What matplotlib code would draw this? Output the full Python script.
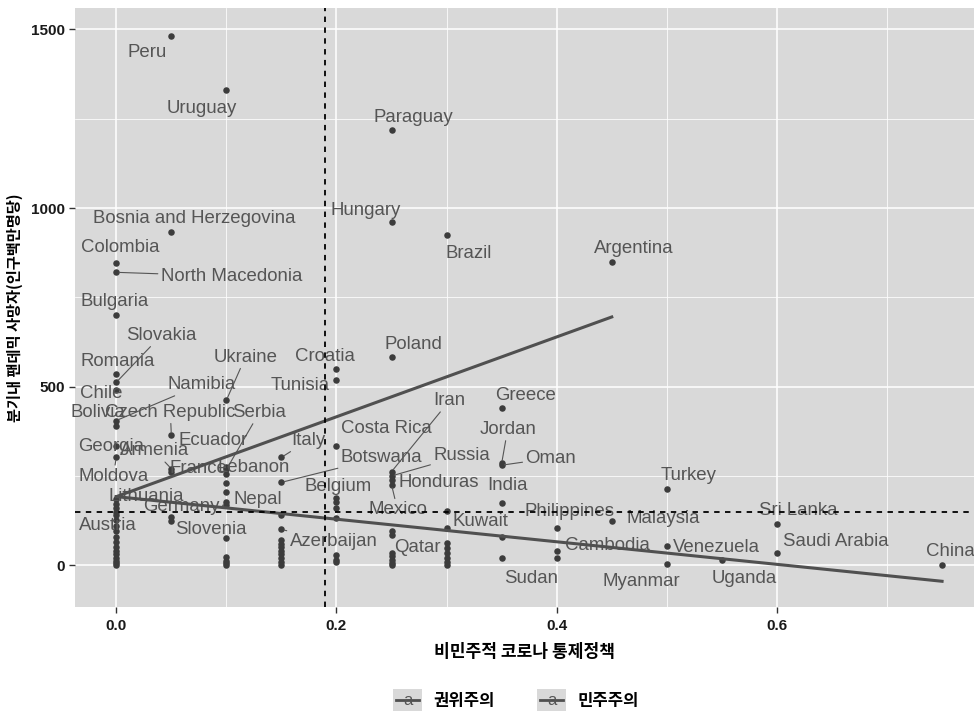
import matplotlib
matplotlib.use("Agg")
import matplotlib.pyplot as plt
from matplotlib.legend_handler import HandlerBase
from matplotlib.lines import Line2D
from matplotlib.patches import Rectangle
from matplotlib.text import Text

# labelled countries: policy score (x) and deaths per million in the quarter (y)
countries = [
    "Peru", "Uruguay", "Paraguay", "Bosnia and Herzegovina", "Hungary", "Brazil",
    "Argentina", "Colombia", "North Macedonia", "Bulgaria", "Slovakia", "Romania",
    "Chile", "Namibia", "Bolivia", "Czech Republic", "Ukraine", "Croatia", "Tunisia",
    "Poland", "Greece", "Iran", "Jordan", "Oman", "Costa Rica", "Russia", "Botswana",
    "Italy", "Serbia", "Ecuador", "Armenia", "Georgia", "France", "Lebanon", "Moldova",
    "Honduras", "Belgium", "India", "Turkey", "Lithuania", "Nepal", "Germany", "Mexico",
    "Kuwait", "Philippines", "Malaysia", "Sri Lanka", "Austria", "Slovenia", "Azerbaijan",
    "Qatar", "Cambodia", "Venezuela", "Saudi Arabia", "China", "Sudan", "Myanmar", "Uganda",
]
policy = [
    0.05, 0.10, 0.25, 0.05, 0.25, 0.30,
    0.45, 0.00, 0.00, 0.00, 0.00, 0.00,
    0.00, 0.00, 0.00, 0.05, 0.10, 0.20, 0.20,
    0.25, 0.35, 0.25, 0.35, 0.35, 0.20, 0.25, 0.15,
    0.15, 0.10, 0.10, 0.05, 0.00, 0.05, 0.10, 0.00,
    0.25, 0.20, 0.35, 0.50, 0.00, 0.10, 0.10, 0.25,
    0.30, 0.40, 0.45, 0.60, 0.00, 0.05, 0.15,
    0.25, 0.40, 0.50, 0.60, 0.75, 0.35, 0.50, 0.55,
]
deaths = [
    1482, 1330, 1218, 932, 960, 924,
    848, 846, 820, 700, 512, 536,
    490, 405, 390, 364, 462, 549, 518,
    582, 440, 262, 285, 280, 333, 250, 232,
    302, 268, 275, 270, 335, 262, 255, 302,
    238, 188, 174, 213, 185, 176, 168, 225,
    104, 104, 123, 115, 126, 123, 100,
    95, 39, 53, 34, 0, 20, 3, 14,
]

# unlabelled countries
other_policy = [0.00] * 15 + [0.05] + [0.10] * 7 + [0.15] * 9 + [0.20] * 6 \
    + [0.25] * 6 + [0.30] * 7 + [0.35, 0.40]
other_deaths = [
    170, 160, 150, 140, 110, 95, 80, 65, 50, 40, 30, 20, 12, 5, 0,
    134,
    230, 205, 76, 22, 12, 5, 0,
    140, 70, 60, 50, 40, 30, 20, 10, 0,
    176, 160, 131, 28, 15, 8,
    84, 34, 25, 15, 6, 0,
    151, 62, 48, 34, 20, 8, 0,
    78, 20,
]

# linear fits per regime type
fit_demo_x = [0.0, 0.45]
fit_demo_y = [192, 695]
fit_auto_x = [0.0, 0.75]
fit_auto_y = [192, -45]

# sample means (dashed reference lines)
mean_policy = 0.19
mean_deaths = 148

regimes = ["권위주의", "민주주의"]

# label placement (pixels: right, down) as repelled in the original
label_offset = {
    "Peru": (-24, 17), "Uruguay": (-25, 18), "Paraguay": (22, -13),
    "Bosnia and Herzegovina": (23, -14), "Hungary": (-26, -12), "Brazil": (22, 18),
    "Argentina": (22, -14), "Colombia": (4, -16), "North Macedonia": (115, 4),
    "Bulgaria": (-2, -14), "Slovakia": (45, -47), "Romania": (1, -12),
    "Chile": (-15, 3), "Namibia": (85, -36), "Bolivia": (-18, -13),
    "Czech Republic": (-1, -23), "Ukraine": (19, -43), "Croatia": (-12, -13),
    "Tunisia": (-36, 5), "Poland": (22, -13), "Greece": (24, -13),
    "Iran": (58, -71), "Jordan": (6, -34), "Oman": (49, -7),
    "Costa Rica": (50, -18), "Russia": (70, -20), "Botswana": (100, -25),
    "Italy": (27, -17), "Serbia": (33, -57), "Ecuador": (-13, -26),
    "Armenia": (-17, -18), "Georgia": (-5, 1), "France": (27, -3),
    "Lebanon": (27, -7), "Moldova": (-3, 19), "Honduras": (47, 2),
    "Belgium": (2, -12), "India": (6, -18), "Turkey": (22, -14),
    "Lithuania": (30, -3), "Nepal": (31, -3), "Germany": (-45, 1),
    "Mexico": (6, 25), "Kuwait": (34, -7), "Philippines": (13, -17),
    "Malaysia": (51, -3), "Sri Lanka": (21, -14), "Austria": (-8, 5),
    "Slovenia": (40, 8), "Azerbaijan": (52, 12), "Qatar": (26, 16),
    "Cambodia": (51, -6), "Venezuela": (50, 1), "Saudi Arabia": (59, -12),
    "China": (8, -14), "Sudan": (29, 20), "Myanmar": (-25, 17), "Uganda": (22, 18),
}
with_segment = {"North Macedonia", "Slovakia", "Namibia", "Czech Republic", "Ukraine",
                "Iran", "Jordan", "Oman", "Russia", "Botswana", "Italy", "Serbia",
                "Armenia", "Moldova", "Germany", "Mexico", "Azerbaijan"}

PANEL = "#d9d9d9"
POINT = "#3c3c3c"
LABEL = "#555555"
FIT = "#505050"


class TextKeyHandler(HandlerBase):
    # ggplot-style key: grey square, line, and the "a" glyph of the text layer
    def create_artists(self, legend, orig_handle, xdescent, ydescent, width, height, fontsize, trans):
        box = Rectangle((-xdescent, -ydescent), width, height, facecolor=PANEL,
                        edgecolor="none", transform=trans)
        mid = -ydescent + height / 2
        line = Line2D([-xdescent + 0.1 * width, -xdescent + 0.9 * width], [mid, mid],
                      color=FIT, lw=2, transform=trans)
        txt = Text(-xdescent + width / 2, mid, "a", ha="center", va="center",
                   fontsize=12, color=LABEL, family="Liberation Sans", transform=trans)
        return [box, line, txt]


fig = plt.figure(figsize=(9.74, 7.11), dpi=100)
ax = fig.add_axes([75 / 974, 1 - 607 / 711, (974 - 75) / 974, (607 - 8) / 711])
ax.set_facecolor(PANEL)
for s in ax.spines.values():
    s.set_visible(False)

ax.set_xlim(-0.0375, 0.779)
ax.set_ylim(-117, 1560)
ax.set_xticks([0.0, 0.2, 0.4, 0.6])
ax.set_xticks([0.1, 0.3, 0.5, 0.7], minor=True)
ax.set_yticks([0, 500, 1000, 1500])
ax.set_yticks([250, 750, 1250], minor=True)
ax.set_xticklabels(["0.0", "0.2", "0.4", "0.6"])
ax.grid(which="major", color="white", lw=1.1)
ax.grid(which="minor", color="white", lw=0.55)
ax.set_axisbelow(True)
ax.tick_params(which="major", length=4, width=1, color="#333333", pad=3)
ax.tick_params(axis="x", which="major", pad=5)
ax.tick_params(which="minor", length=0)
for lab in ax.get_xticklabels() + ax.get_yticklabels():
    lab.set_family("Liberation Sans")
    lab.set_fontweight("bold")
    lab.set_fontsize(11)
    lab.set_color("#1a1a1a")

ax.scatter(other_policy, other_deaths, s=22, color=POINT, zorder=2, linewidths=0)
ax.scatter(policy, deaths, s=22, color=POINT, zorder=2, linewidths=0)

for name, x, y in zip(countries, policy, deaths):
    dx, dy = label_offset[name]
    arrow = None
    if name in with_segment:
        arrow = dict(arrowstyle="-", color=LABEL, lw=0.8, shrinkA=0, shrinkB=2)
    ax.annotate(name, (x, y), xytext=(dx, -dy), textcoords="offset pixels",
                ha="center", va="center", fontsize=13.4, color=LABEL,
                family="Liberation Sans", zorder=3, arrowprops=arrow)

ax.plot(fit_demo_x, fit_demo_y, color=FIT, lw=2.2, zorder=4)
ax.plot(fit_auto_x, fit_auto_y, color=FIT, lw=2.2, zorder=4)
ax.axvline(mean_policy, color="black", ls=(0, (3, 3)), lw=1.3, zorder=5)
ax.axhline(mean_deaths, color="black", ls=(0, (3, 3)), lw=1.3, zorder=5)

ax.set_xlabel("비민주적 코로나 통제정책", family="Noto Sans CJK KR", fontweight="bold",
              fontsize=12.3, labelpad=7)
ax.set_ylabel("분기내 팬데믹 사망자(인구백만명당)", family="Noto Sans CJK KR",
              fontweight="bold", fontsize=11, labelpad=6)

handles = [Line2D([], [], color=FIT) for _ in regimes]
leg = fig.legend(handles, regimes, loc="lower center", bbox_to_anchor=(0.53, -0.022), ncol=2,
                 frameon=False, handler_map={Line2D: TextKeyHandler()},
                 handlelength=1.75, handleheight=1.75, handletextpad=0.7, columnspacing=2.5,
                 prop={"family": "Noto Sans CJK KR", "weight": "bold", "size": 12})

fig.savefig("out.png", dpi=100)
